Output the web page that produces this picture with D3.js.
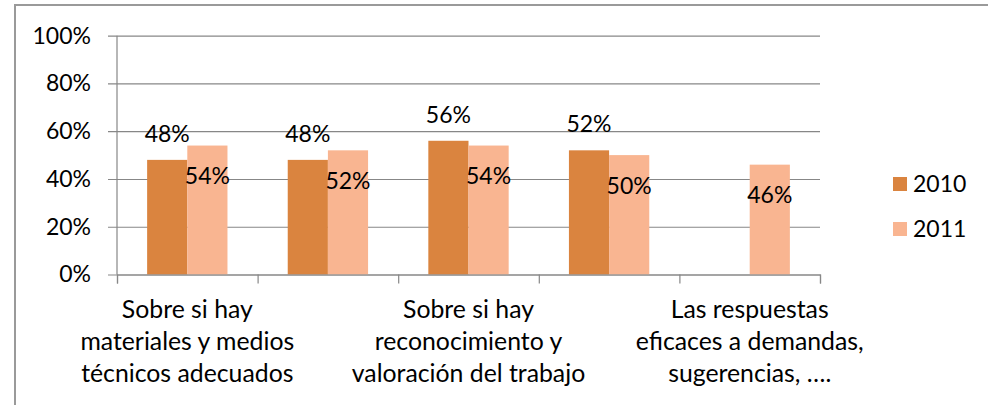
<!DOCTYPE html>
<html>
<head>
<meta charset="utf-8">
<script src="https://cdn.jsdelivr.net/npm/d3@7"></script>
<style>
  html, body { margin: 0; padding: 0; background: #fff; }
  svg { display: block; }
  text { font-family: Lato, "Open Sans", sans-serif; fill: #000; }
</style>
</head>
<body>
<svg id="chart" width="988" height="405"></svg>
<script>
// Category labels, one entry per group (line-broken); the 2nd and 4th are not shown on the axis
const categories = [
  ["Sobre si hay", "materiales y medios", "técnicos adecuados"],
  [],
  ["Sobre si hay", "reconocimiento y", "valoración del trabajo"],
  [],
  ["Las respuestas", "eficaces a demandas,", "sugerencias, …."]
];
const seriesNames = ["2010", "2011"];
const values2010 = [0.48, 0.48, 0.56, 0.52, null];
const values2011 = [0.54, 0.52, 0.54, 0.50, 0.46];
const yTicks = [0, 0.2, 0.4, 0.6, 0.8, 1.0];

const colors = { "2010": "#DA843F", "2011": "#F9B591" };
const gridColor = "#878787";
const fontSize = 23;
const catFontSize = 24.8;

const svg = d3.select("#chart");

// chart-area frame (left and top edges visible)
svg.append("path")
  .attr("d", "M15,405V5H988")
  .attr("fill", "none")
  .attr("stroke", "#9a9a9a")
  .attr("stroke-width", 2);

const plot = { left: 117, right: 820, top: 35.7, bottom: 274.5 };

const x = d3.scaleBand()
  .domain(d3.range(categories.length))
  .range([plot.left, plot.right])
  .padding(0);

const xInner = d3.scaleBand()
  .domain(seriesNames)
  .range([0, x.bandwidth()])
  .paddingInner(0)
  .paddingOuter(0.75);

const y = d3.scaleLinear().domain([0, 1]).range([plot.bottom, plot.top]);

// horizontal gridlines + y tick labels
const yAxis = d3.axisLeft(y)
  .tickValues(yTicks)
  .tickFormat(d3.format(".0%"))
  .tickSize(plot.right - plot.left + 9)
  .tickPadding(17);

const gy = svg.append("g")
  .attr("transform", `translate(${plot.right},0)`)
  .call(yAxis);
gy.select(".domain").remove();
gy.selectAll(".tick line").attr("stroke", gridColor).attr("stroke-width", 1.2);
gy.selectAll(".tick text")
  .attr("font-size", fontSize)
  .attr("font-family", "Lato, sans-serif")
  .attr("fill", "#000");

// vertical value axis line
svg.append("line")
  .attr("x1", plot.left).attr("x2", plot.left)
  .attr("y1", plot.top).attr("y2", plot.bottom)
  .attr("stroke", gridColor).attr("stroke-width", 1.2);

// bars
const rows = categories.map((c, i) => ({ i, "2010": values2010[i], "2011": values2011[i] }));

const groups = svg.append("g").selectAll("g")
  .data(rows)
  .join("g")
  .attr("transform", d => `translate(${x(d.i)},0)`);

groups.selectAll("rect")
  .data(d => seriesNames.map(s => ({ s, v: d[s] })).filter(e => e.v != null))
  .join("rect")
  .attr("x", e => xInner(e.s))
  .attr("width", xInner.bandwidth())
  .attr("y", e => y(e.v))
  .attr("height", e => y(0) - y(e.v))
  .attr("fill", e => colors[e.s]);

// value labels: 2010 above its bar, 2011 inside its bar
groups.selectAll("text.val")
  .data(d => seriesNames.map(s => ({ s, v: d[s] })).filter(e => e.v != null))
  .join("text")
  .attr("class", "val")
  .attr("x", e => xInner(e.s) + xInner.bandwidth() / 2)
  .attr("y", e => e.s === "2010" ? y(e.v) - 18 : y(e.v) + 38.5)
  .attr("text-anchor", "middle")
  .attr("font-size", fontSize)
  .text(e => d3.format(".0%")(e.v));

// category axis with tick marks at group boundaries
const xEdges = d3.scaleLinear().domain([0, categories.length]).range([plot.left, plot.right]);
const gx = svg.append("g")
  .attr("transform", `translate(0,${plot.bottom})`)
  .call(d3.axisBottom(xEdges).tickValues(d3.range(categories.length + 1)).tickSize(9).tickSizeOuter(9).tickFormat(""));
gx.select(".domain").attr("stroke", gridColor).attr("stroke-width", 1.2);
gx.selectAll(".tick line").attr("stroke", gridColor).attr("stroke-width", 1.2);

// category labels
const catLabels = svg.append("g").selectAll("text")
  .data(categories.map((lines, i) => ({ lines, i })).filter(d => d.lines.length))
  .join("text")
  .attr("text-anchor", "middle")
  .attr("font-size", catFontSize);

catLabels.selectAll("tspan")
  .data(d => d.lines.map((t, k) => ({ t, k, cx: x(d.i) + x.bandwidth() / 2 })))
  .join("tspan")
  .attr("x", d => d.cx)
  .attr("y", d => plot.bottom + 43.5 + d.k * 32)
  .text(d => d.t);

// legend
const legend = svg.append("g").selectAll("g")
  .data(seriesNames)
  .join("g")
  .attr("transform", (d, k) => `translate(893,${177 + k * 45})`);
legend.append("rect")
  .attr("width", 14).attr("height", 14)
  .attr("fill", d => colors[d]);
legend.append("text")
  .attr("x", 20).attr("y", 14.5)
  .attr("font-size", fontSize)
  .text(d => d);
</script>
</body>
</html>
